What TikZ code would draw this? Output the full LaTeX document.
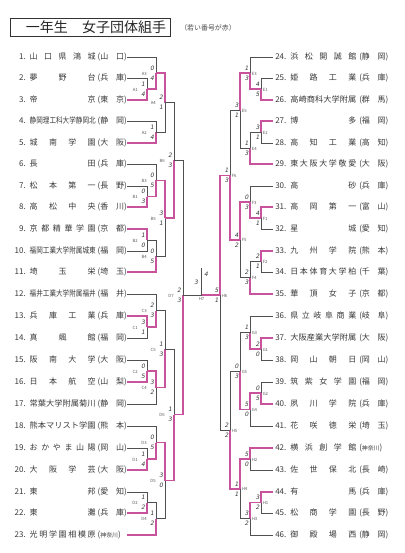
\documentclass[tikz,border=0pt]{standalone}
\usepackage{fontspec}
\usepackage{graphicx}
\usepackage{xcolor}
\usepackage{tikz}
\usetikzlibrary{positioning, calc}
\setmainfont{Noto Sans CJK JP}
\newfontfamily\handfont[FakeSlant=0.2]{DejaVu Sans}
\definecolor{pinkline}{RGB}{200,82,156}
\definecolor{greyline}{RGB}{80,80,80}

\newcommand{\tnm}[1]{\makebox[49.5pt][s]{#1}}
\newcommand{\tnmc}[1]{\resizebox{49.5pt}{\height}{#1}}
\newcommand{\tpf}[1]{\makebox[21.75pt][s]{(#1)}}
\newcommand{\tpfs}[1]{\makebox[21.75pt][s]{({\fontsize{4.4}{5}\selectfont #1})}}
\newcommand{\ltxt}[3]{\makebox[11.25pt][r]{#1.}\hspace{3pt}#2\hspace{1.5pt}#3\hspace{1.5pt}}
\newcommand{\rtxt}[3]{\hspace{1.5pt}\makebox[11.25pt][l]{#1.}#2\hspace{2.25pt}#3}
% match label and scores, left side / right side
\newcommand{\lres}[3]{%
  \node[mlab, anchor=east] (#1-l) at ($(#1)+(-9,0.5)$) {#1};
  \node[score] (#1-u) at ($(#1)+(-4,-5)$) {#2};
  \node[score] (#1-d) at ($(#1)+(-4,5)$) {#3};}
\newcommand{\rres}[3]{%
  \node[mlab, anchor=west] (#1-l) at ($(#1)+(1.5,0.5)$) {#1};
  \node[score] (#1-u) at ($(#1)+(-3.5,-5)$) {#2};
  \node[score] (#1-d) at ($(#1)+(-3.5,5)$) {#3};}

\begin{document}
\begin{tikzpicture}[x=0.75pt,y=0.75pt,yscale=-1,xscale=1,
  gline/.style={draw=greyline, line width=0.5pt},
  pline/.style={draw=pinkline, line width=0.95pt},
  lteam/.style={anchor=east, inner sep=0pt, font=\fontsize{6}{7}\selectfont, text=black!78},
  rteam/.style={anchor=west, inner sep=0pt, font=\fontsize{6}{7}\selectfont, text=black!78},
  mlab/.style={inner sep=0pt, font=\fontsize{3.2}{3.5}\selectfont, text=black!65},
  score/.style={inner sep=0pt, font=\handfont\fontsize{4.5}{5}\selectfont, text=black!80}]
\useasboundingbox (0,0) rectangle (404,553);

%Title
\node[draw=black!80, line width=0.6pt, minimum width=120pt, minimum height=14pt, inner sep=0pt] (ttlbox) at (90,27.5) {};
\node[inner sep=0pt, font=\fontsize{10.5}{12}\selectfont, text=black!85] (ttl) at (96,27.5) {一年生\hspace{1em}女子団体組手};
\node[inner sep=0pt, font=\fontsize{5.2}{6}\selectfont, text=black!70] (note) at (208,28) {（若い番号が赤）};

%Teams, left
\node[lteam] (t1) at (127,57) {\ltxt{1}{\tnm{山 口 県 鴻 城}}{\tpf{山 口}}};
\node[lteam] (t2) at (127,78) {\ltxt{2}{\tnm{夢 野 台}}{\tpf{兵 庫}}};
\node[lteam] (t3) at (127,100) {\ltxt{3}{\tnm{帝 京}}{\tpf{東 京}}};
\node[lteam] (t4) at (127,121) {\ltxt{4}{\tnmc{静岡理工科大学静岡北}}{\tpf{静 岡}}};
\node[lteam] (t5) at (127,143) {\ltxt{5}{\tnm{城 南 学 園}}{\tpf{大 阪}}};
\node[lteam] (t6) at (127,164) {\ltxt{6}{\tnm{長 田}}{\tpf{兵 庫}}};
\node[lteam] (t7) at (127,186) {\ltxt{7}{\tnm{松 本 第 一}}{\tpf{長 野}}};
\node[lteam] (t8) at (127,207) {\ltxt{8}{\tnm{高 松 中 央}}{\tpf{香 川}}};
\node[lteam] (t9) at (127,229) {\ltxt{9}{\tnm{京 都 精 華 学 園}}{\tpf{京 都}}};
\node[lteam] (t10) at (127,251) {\ltxt{10}{\tnmc{福岡工業大学附属城東}}{\tpf{福 岡}}};
\node[lteam] (t11) at (127,272) {\ltxt{11}{\tnm{埼 玉 栄}}{\tpf{埼 玉}}};
\node[lteam] (t12) at (127,294) {\ltxt{12}{\tnmc{福井工業大学附属福井}}{\tpf{福 井}}};
\node[lteam] (t13) at (127,316) {\ltxt{13}{\tnm{兵 庫 工 業}}{\tpf{兵 庫}}};
\node[lteam] (t14) at (127,338) {\ltxt{14}{\tnm{真 颯 館}}{\tpf{福 岡}}};
\node[lteam] (t15) at (127,360) {\ltxt{15}{\tnm{阪 南 大 学}}{\tpf{大 阪}}};
\node[lteam] (t16) at (127,382) {\ltxt{16}{\tnm{日 本 航 空}}{\tpf{山 梨}}};
\node[lteam] (t17) at (127,404) {\ltxt{17}{\tnmc{常葉大学附属菊川}}{\tpf{静 岡}}};
\node[lteam] (t18) at (127,426) {\ltxt{18}{\tnmc{熊本マリスト学園}}{\tpf{熊 本}}};
\node[lteam] (t19) at (127,448) {\ltxt{19}{\tnm{お か や ま 山 陽}}{\tpf{岡 山}}};
\node[lteam] (t20) at (127,470) {\ltxt{20}{\tnm{大 阪 学 芸}}{\tpf{大 阪}}};
\node[lteam] (t21) at (127,492) {\ltxt{21}{\tnm{東 邦}}{\tpf{愛 知}}};
\node[lteam] (t22) at (127,513) {\ltxt{22}{\tnm{東 灘}}{\tpf{兵 庫}}};
\node[lteam] (t23) at (127,535) {\ltxt{23}{\tnm{光 明 学 園 相 模 原}}{\tpfs{神奈川}}};

%Teams, right
\node[rteam] (t24) at (273,57) {\rtxt{24}{\tnm{浜 松 開 誠 館}}{\tpf{静 岡}}};
\node[rteam] (t25) at (273,78) {\rtxt{25}{\tnm{姫 路 工 業}}{\tpf{兵 庫}}};
\node[rteam] (t26) at (273,100) {\rtxt{26}{\tnmc{高崎商科大学附属}}{\tpf{群 馬}}};
\node[rteam] (t27) at (273,121) {\rtxt{27}{\tnm{博 多}}{\tpf{福 岡}}};
\node[rteam] (t28) at (273,143) {\rtxt{28}{\tnm{高 知 工 業}}{\tpf{高 知}}};
\node[rteam] (t29) at (273,164) {\rtxt{29}{\tnm{東 大 阪 大 学 敬 愛}}{\tpf{大 阪}}};
\node[rteam] (t30) at (273,186) {\rtxt{30}{\tnm{高 砂}}{\tpf{兵 庫}}};
\node[rteam] (t31) at (273,207) {\rtxt{31}{\tnm{高 岡 第 一}}{\tpf{富 山}}};
\node[rteam] (t32) at (273,229) {\rtxt{32}{\tnm{星 城}}{\tpf{愛 知}}};
\node[rteam] (t33) at (273,251) {\rtxt{33}{\tnm{九 州 学 院}}{\tpf{熊 本}}};
\node[rteam] (t34) at (273,272) {\rtxt{34}{\tnm{日 本 体 育 大 学 柏}}{\tpf{千 葉}}};
\node[rteam] (t35) at (273,294) {\rtxt{35}{\tnm{華 頂 女 子}}{\tpf{京 都}}};
\node[rteam] (t36) at (273,316) {\rtxt{36}{\tnm{県 立 岐 阜 商 業}}{\tpf{岐 阜}}};
\node[rteam] (t37) at (273,338) {\rtxt{37}{\tnmc{大阪産業大学附属}}{\tpf{大 阪}}};
\node[rteam] (t38) at (273,360) {\rtxt{38}{\tnm{岡 山 朝 日}}{\tpf{岡 山}}};
\node[rteam] (t39) at (273,382) {\rtxt{39}{\tnm{筑 紫 女 学 園}}{\tpf{福 岡}}};
\node[rteam] (t40) at (273,404) {\rtxt{40}{\tnm{夙 川 学 院}}{\tpf{兵 庫}}};
\node[rteam] (t41) at (273,426) {\rtxt{41}{\tnm{花 咲 徳 栄}}{\tpf{埼 玉}}};
\node[rteam] (t42) at (273,448) {\rtxt{42}{\tnm{横 浜 創 学 館}}{\tpfs{神奈川}}};
\node[rteam] (t43) at (273,470) {\rtxt{43}{\tnm{佐 世 保 北}}{\tpf{長 崎}}};
\node[rteam] (t44) at (273,492) {\rtxt{44}{\tnm{有 馬}}{\tpf{兵 庫}}};
\node[rteam] (t45) at (273,513) {\rtxt{45}{\tnm{松 商 学 園}}{\tpf{長 野}}};
\node[rteam] (t46) at (273,535) {\rtxt{46}{\tnm{御 殿 場 西}}{\tpf{静 岡}}};

%Match points, left
\coordinate (A1) at (147,89);
\coordinate (A3) at (156,73);
\coordinate (A2) at (156,132);
\coordinate (A4) at (165,102.5);
\coordinate (B1) at (147,196.5);
\coordinate (B3) at (156,180.25);
\coordinate (B2) at (147,240);
\coordinate (B4) at (156,256);
\coordinate (B5) at (165,218);
\coordinate (B6) at (174,160.25);
\coordinate (C1) at (147,327);
\coordinate (C3) at (156,310.5);
\coordinate (C2) at (147,371);
\coordinate (C4) at (156,387.5);
\coordinate (C5) at (165,349);
\coordinate (D1) at (147,459);
\coordinate (D3) at (156,442.5);
\coordinate (D2) at (147,502.5);
\coordinate (D4) at (156,518.75);
\coordinate (D5) at (165,480.6);
\coordinate (D6) at (174,414.8);
\coordinate (D7) at (183,295);
%Match points, right
\coordinate (E1) at (261,89);
\coordinate (E3) at (250,73);
\coordinate (E2) at (261,132);
\coordinate (E4) at (250,148);
\coordinate (E5) at (240,110.5);
\coordinate (F1) at (261,218);
\coordinate (F3) at (250,202);
\coordinate (F2) at (261,261.5);
\coordinate (F4) at (250,277.75);
\coordinate (F5) at (240,239.9);
\coordinate (F6) at (230,175.2);
\coordinate (G1) at (261,349);
\coordinate (G3) at (250,332.5);
\coordinate (G2) at (261,393);
\coordinate (G4) at (250,409.5);
\coordinate (G5) at (240,371);
\coordinate (H2) at (250,459);
\coordinate (H1) at (261,502.5);
\coordinate (H3) at (250,518.75);
\coordinate (H4) at (240,488.9);
\coordinate (H5) at (230,430);
\coordinate (H6) at (220,295);
%Final
\coordinate (FIN) at (201.5,295);
\coordinate (CH) at (201.5,268);

%Bracket lines, left
\draw[gline] (t2.east) -| (A1); \draw[pline] (t3.east) -| (A1);
\draw[gline] (t1.east) -| (A3); \draw[pline] (A1) -| (A3);
\draw[gline] (t4.east) -| (A2); \draw[pline] (t5.east) -| (A2);
\draw[gline] (A2) -| (A4); \draw[pline] (A3) -| (A4);
\draw[gline] (t7.east) -| (B1); \draw[pline] (t8.east) -| (B1);
\draw[gline] (t6.east) -| (B3); \draw[pline] (B1) -| (B3);
\draw[gline] (t10.east) -| (B2); \draw[pline] (t9.east) -| (B2);
\draw[gline] (B2) -| (B4); \draw[pline] (t11.east) -| (B4);
\draw[gline] (B4) -| (B5); \draw[pline] (B3) -| (B5);
\draw[gline] (A4) -| (B6); \draw[pline] (B5) -| (B6);
\draw[gline] (t14.east) -| (C1); \draw[pline] (t13.east) -| (C1);
\draw[gline] (t12.east) -| (C3); \draw[pline] (C1) -| (C3);
\draw[gline] (t15.east) -| (C2); \draw[pline] (t16.east) -| (C2);
\draw[gline] (t17.east) -| (C4); \draw[pline] (C2) -| (C4);
\draw[gline] (C3) -| (C5); \draw[pline] (C4) -| (C5);
\draw[gline] (t19.east) -| (D1); \draw[pline] (t20.east) -| (D1);
\draw[gline] (t18.east) -| (D3); \draw[pline] (D1) -| (D3);
\draw[gline] (t21.east) -| (D2); \draw[pline] (t22.east) -| (D2);
\draw[gline] (D2) -| (D4); \draw[pline] (t23.east) -| (D4);
\draw[gline] (D4) -| (D5); \draw[pline] (D3) -| (D5);
\draw[gline] (C5) -| (D6); \draw[pline] (D5) -| (D6);
\draw[gline] (B6) -| (D7); \draw[pline] (D6) -| (D7);

%Bracket lines, right
\draw[gline] (t25.west) -| (E1); \draw[pline] (t26.west) -| (E1);
\draw[gline] (t24.west) -| (E3); \draw[pline] (E1) -| (E3);
\draw[gline] (t28.west) -| (E2); \draw[pline] (t27.west) -| (E2);
\draw[gline] (E2) -| (E4); \draw[pline] (t29.west) -| (E4);
\draw[gline] (E4) -| (E5); \draw[pline] (E3) -| (E5);
\draw[gline] (t32.west) -| (F1); \draw[pline] (t31.west) -| (F1);
\draw[gline] (t30.west) -| (F3); \draw[pline] (F1) -| (F3);
\draw[gline] (t34.west) -| (F2); \draw[pline] (t33.west) -| (F2);
\draw[gline] (F2) -| (F4); \draw[pline] (t35.west) -| (F4);
\draw[gline] (F4) -| (F5); \draw[pline] (F3) -| (F5);
\draw[gline] (E5) -| (F6); \draw[pline] (F5) -| (F6);
\draw[gline] (t38.west) -| (G1); \draw[pline] (t37.west) -| (G1);
\draw[gline] (t36.west) -| (G3); \draw[pline] (G1) -| (G3);
\draw[gline] (t39.west) -| (G2); \draw[pline] (t40.west) -| (G2);
\draw[gline] (t41.west) -| (G4); \draw[pline] (G2) -| (G4);
\draw[gline] (G3) -| (G5); \draw[pline] (G4) -| (G5);
\draw[gline] (t43.west) -| (H2); \draw[pline] (t42.west) -| (H2);
\draw[gline] (t45.west) -| (H1); \draw[pline] (t44.west) -| (H1);
\draw[gline] (t46.west) -| (H3); \draw[pline] (H1) -| (H3);
\draw[gline] (H3) -| (H4); \draw[pline] (H2) -| (H4);
\draw[gline] (G5) -| (H5); \draw[pline] (H4) -| (H5);
\draw[gline] (H5) -| (H6); \draw[pline] (F6) -| (H6);

%Final
\draw[gline] (D7) -- (FIN);
\draw[pline] (H6) -- (FIN);
\draw[gline] (FIN) -- (CH);

%Labels and scores
\lres{A1}{1}{4} \lres{A3}{0}{4} \lres{A2}{1}{4} \lres{A4}{2}{1}
\lres{B1}{0}{3} \lres{B3}{0}{5} \lres{B2}{1}{0} \lres{B4}{0}{5}
\lres{B5}{3}{1} \lres{B6}{2}{3}
\lres{C1}{3}{1} \lres{C3}{2}{3} \lres{C2}{0}{5} \lres{C4}{3}{2} \lres{C5}{1}{3}
\lres{D1}{1}{4} \lres{D3}{0}{5} \lres{D2}{1}{2} \lres{D4}{1}{2}
\lres{D5}{3}{0} \lres{D6}{1}{3} \lres{D7}{2}{3}
\rres{E1}{4}{5} \rres{E3}{1}{3} \rres{E2}{3}{1} \rres{E4}{1}{3} \rres{E5}{3}{1}
\rres{F1}{4}{1} \rres{F3}{0}{3} \rres{F2}{2}{1} \rres{F4}{2}{3}
\rres{F5}{4}{2} \rres{F6}{1}{3}
\rres{G1}{2}{0} \rres{G3}{1}{3} \rres{G2}{0}{5} \rres{G4}{5}{0} \rres{G5}{0}{3}
\rres{H2}{5}{0} \rres{H1}{3}{2} \rres{H3}{3}{2} \rres{H4}{1}{1}
\rres{H5}{2}{2} \rres{H6}{5}{1}
\node[mlab] (FIN-l) at ($(FIN)+(0,4)$) {H7};
\node[score] (FIN-u) at ($(FIN)+(-5.5,-13)$) {3};
\node[score] (FIN-d) at ($(FIN)+(4.5,-21)$) {4};

\end{tikzpicture}
\end{document}
